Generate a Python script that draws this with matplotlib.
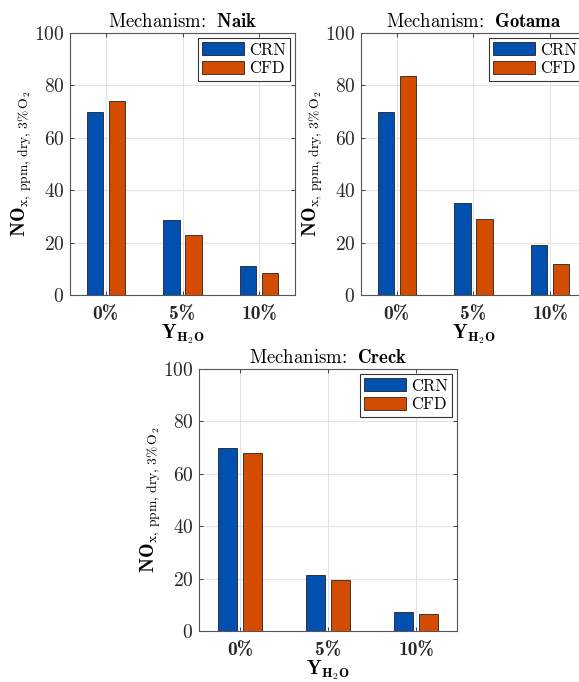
import matplotlib
matplotlib.use("Agg")
import matplotlib.pyplot as plt
import numpy as np

plt.rcParams['mathtext.fontset'] = 'cm'
plt.rcParams['font.family'] = ['cmr10']
plt.rcParams['axes.formatter.use_mathtext'] = True

categories = ["0%", "5%", "10%"]
mechanisms = ["Naik", "Gotama", "Creck"]
crn_naik = [70.0, 28.5, 11.0]
cfd_naik = [74.0, 23.0, 8.3]
crn_gotama = [70.0, 35.0, 19.0]
cfd_gotama = [83.5, 29.0, 12.0]
crn_creck = [70.0, 21.5, 7.2]
cfd_creck = [68.0, 19.5, 6.5]
series_names = ["CRN", "CFD"]
yticks = [0, 20, 40, 60, 80, 100]

blue = "#0050B0"
orange = "#D44C00"

fig = plt.figure(figsize=(5.79, 6.82), dpi=100)
W, H = 579.0, 682.0
def ax_at(l, t, w, h):
    return fig.add_axes([l / W, (H - t - h) / H, w / W, h / H])

axes = [ax_at(70, 33, 225, 262), ax_at(361, 33, 225, 262), ax_at(199, 369, 258, 262)]
data = [(crn_naik, cfd_naik), (crn_gotama, cfd_gotama), (crn_creck, cfd_creck)]

ylab = r"$\mathbf{NO}_{\mathrm{x,\,ppm,\,dry,\,3\%\,O_2}}$"
xlab = r"$\mathbf{Y}_{\mathbf{H_2O}}$"

for ax, mech, (crn, cfd) in zip(axes, mechanisms, data):
    x = np.arange(1, len(categories) + 1)
    off = 0.143
    w = 0.21
    ax.bar(x - off, crn, width=w, color=blue, edgecolor="#222222", linewidth=0.6, zorder=3,
           label=series_names[0])
    ax.bar(x + off, cfd, width=w, color=orange, edgecolor="#222222", linewidth=0.6, zorder=3,
           label=series_names[1])
    ax.set_xlim(0.535, 3.465)
    ax.set_ylim(0, 100)
    ax.set_xticks(x)
    ax.set_xticklabels(categories, fontsize=14, family='cmb10')
    ax.set_yticks(yticks)
    ax.set_yticklabels([r"$%d$" % v for v in yticks], fontsize=14)
    ax.grid(True, color="#E3E3E3", linewidth=0.8, zorder=0)
    ax.set_axisbelow(True)
    ax.tick_params(direction='in', top=True, right=True, length=3, width=0.6, colors="#262626", pad=4)
    ax.tick_params(axis='x', pad=7)
    for s in ax.spines.values():
        s.set_color("#555555")
        s.set_linewidth(0.8)
    ax.set_title(r"Mechanism:$\ \ \mathbf{%s}$" % mech, fontsize=13.5, pad=4)
    ax.set_ylabel(ylab, fontsize=14, labelpad=0)
    ax.set_xlabel(xlab, fontsize=14, labelpad=0)
    leg = ax.legend(loc="upper right", fontsize=12, handlelength=2.5, handleheight=0.85,
                    fancybox=False, edgecolor="#333333", framealpha=1, borderpad=0.25,
                    labelspacing=0.2, handletextpad=0.3, borderaxespad=0.3)
    leg.get_frame().set_linewidth(0.8)

fig.savefig("out.png", dpi=100)
